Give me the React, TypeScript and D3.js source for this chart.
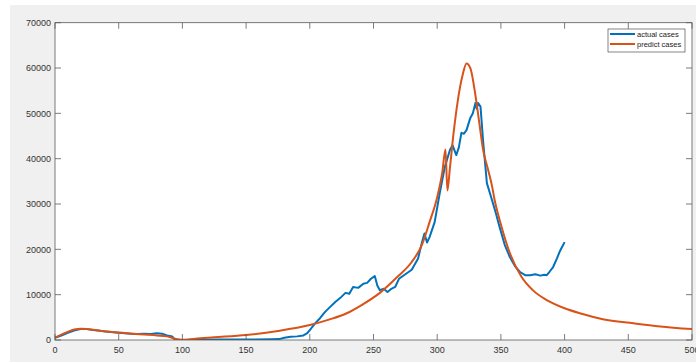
import React from 'react';
import * as d3 from 'd3';

// actual cases (day, cases)
const actualDays = [0, 5, 10, 15, 20, 25, 30, 40, 50, 60, 65, 70, 75, 80, 84, 88, 92, 94, 100, 110, 130, 150, 170, 176, 180, 185, 190, 195, 198, 200, 204, 208, 212, 216, 220, 224, 228, 231, 234, 238, 242, 245, 248, 251, 253, 255, 258, 261, 264, 267, 270, 275, 280, 285, 288, 290, 292, 294, 298, 302, 306, 310, 312, 315, 317, 319, 321, 323, 326, 328, 330, 331, 332, 334, 336, 339, 343, 346, 349, 353, 357, 361, 365, 369, 373, 377, 381, 384, 386, 388, 391, 394, 396, 398, 400];
const actualCases = [500, 1000, 1600, 2100, 2400, 2400, 2200, 1900, 1600, 1400, 1300, 1400, 1300, 1500, 1400, 1000, 800, 100, 0, 50, 100, 100, 150, 200, 500, 700, 800, 1000, 1500, 2200, 3600, 4800, 6200, 7300, 8400, 9300, 10400, 10200, 11700, 11500, 12400, 12600, 13500, 14100, 12000, 11000, 11300, 10600, 11300, 11700, 13500, 14500, 15500, 18000, 21500, 23500, 21500, 22700, 26000, 32400, 38200, 41900, 43000, 40800, 42500, 45700, 45500, 46300, 49000, 50000, 52300, 51000, 52300, 51500, 44000, 34600, 30900, 28000, 24900, 21000, 18300, 16300, 15000, 14300, 14300, 14500, 14200, 14400, 14300, 15000, 16100, 18000, 19400, 20500, 21600];

// predicted cases
const predictDays = [0, 5, 10, 15, 20, 25, 30, 40, 50, 60, 70, 80, 88, 93, 97, 100, 105, 110, 125, 150, 175, 200, 215, 229, 240, 255, 269, 280, 288, 294, 300, 304, 306.5, 308, 310, 313, 316, 320, 323, 326, 330, 333, 336, 340, 343, 345, 350, 357, 366, 375, 386, 400, 412, 430, 454, 475, 500];
const predictCases = [500, 1200, 1800, 2300, 2500, 2450, 2250, 1900, 1650, 1400, 1200, 1000, 800, 400, 100, 50, 100, 300, 600, 1100, 2000, 3300, 4500, 5900, 7600, 10400, 14000, 17200, 21000, 26000, 31500, 37000, 42000, 33000, 38000, 46000, 52500, 58500, 61000, 60000, 54000, 48000, 42000, 37500, 34000, 31000, 25500, 19200, 14000, 11000, 8800, 7000, 5900, 4600, 3700, 3000, 2400];

const xTicks = [0, 50, 100, 150, 200, 250, 300, 350, 400, 450, 500];
const yTicks = [0, 10000, 20000, 30000, 40000, 50000, 60000, 70000];
const seriesNames = ['actual cases', 'predict cases'];
const seriesColors = ['#0072BD', '#D95319'];

export default function App() {
  const W = 696, H = 362;
  const left = 55, right = 692, top = 22.7, bottom = 340;

  const x = d3.scaleLinear().domain([0, 500]).range([left, right]);
  const y = d3.scaleLinear().domain([0, 70000]).range([bottom, top]);

  const actual = actualDays.map((d, i) => [d, actualCases[i]] as [number, number]);
  const predict = predictDays.map((d, i) => [d, predictCases[i]] as [number, number]);

  const lineLin = d3.line<[number, number]>().x(d => x(d[0])).y(d => y(d[1]));
  const lineSmooth = d3.line<[number, number]>().x(d => x(d[0])).y(d => y(d[1])).curve(d3.curveMonotoneX);

  const axisColor = '#5a5a5a';
  const textColor = '#333';
  const font = 'Arial, "Liberation Sans", Helvetica, sans-serif';

  return (
    <svg width={W} height={H} style={{ position: 'absolute', left: 0, top: 0 }}>
      <rect x={0} y={0} width={W} height={H} fill="#fff" />
      <rect x={10} y={5} width={W - 10} height={H - 5} fill="#f0f0f0" />
      <defs>
        <clipPath id="plotClip">
          <rect x={left} y={top} width={right - left} height={bottom - top} />
        </clipPath>
      </defs>
      <rect x={left} y={top} width={right - left} height={bottom - top} fill="#fff" />

      <g clipPath="url(#plotClip)">
        <path d={lineLin(actual) || ''} fill="none" stroke={seriesColors[0]} strokeWidth={2} strokeLinejoin="round" />
        <path d={lineSmooth(predict) || ''} fill="none" stroke={seriesColors[1]} strokeWidth={2} strokeLinejoin="round" />
      </g>

      {/* box and ticks */}
      <rect x={left} y={top} width={right - left} height={bottom - top} fill="none" stroke={axisColor} strokeWidth={0.8} />
      {xTicks.map(t => (
        <g key={'x' + t}>
          <line x1={x(t)} x2={x(t)} y1={bottom} y2={bottom - 6} stroke={axisColor} strokeWidth={0.8} />
          <line x1={x(t)} x2={x(t)} y1={top} y2={top + 6} stroke={axisColor} strokeWidth={0.8} />
          <text x={x(t)} y={bottom + 13} textAnchor="middle" fontSize={9} fontFamily={font} fill={textColor}>{t}</text>
        </g>
      ))}
      {yTicks.map(t => (
        <g key={'y' + t}>
          <line x1={left} x2={left + 6} y1={y(t)} y2={y(t)} stroke={axisColor} strokeWidth={0.8} />
          <line x1={right} x2={right - 6} y1={y(t)} y2={y(t)} stroke={axisColor} strokeWidth={0.8} />
          <text x={left - 4} y={y(t) + 3.2} textAnchor="end" fontSize={9} fontFamily={font} fill={textColor}>{t}</text>
        </g>
      ))}

      {/* legend */}
      <g>
        <rect x={608} y={29} width={77} height={23} fill="#fff" stroke="#333" strokeWidth={0.6} />
        {seriesNames.map((name, i) => (
          <g key={name}>
            <line x1={610} x2={635} y1={34 + i * 10} y2={34 + i * 10} stroke={seriesColors[i]} strokeWidth={2} />
            <text x={637} y={36.5 + i * 10} fontSize={7.5} fontFamily={font} fill="#222">{name}</text>
          </g>
        ))}
      </g>
    </svg>
  );
}
